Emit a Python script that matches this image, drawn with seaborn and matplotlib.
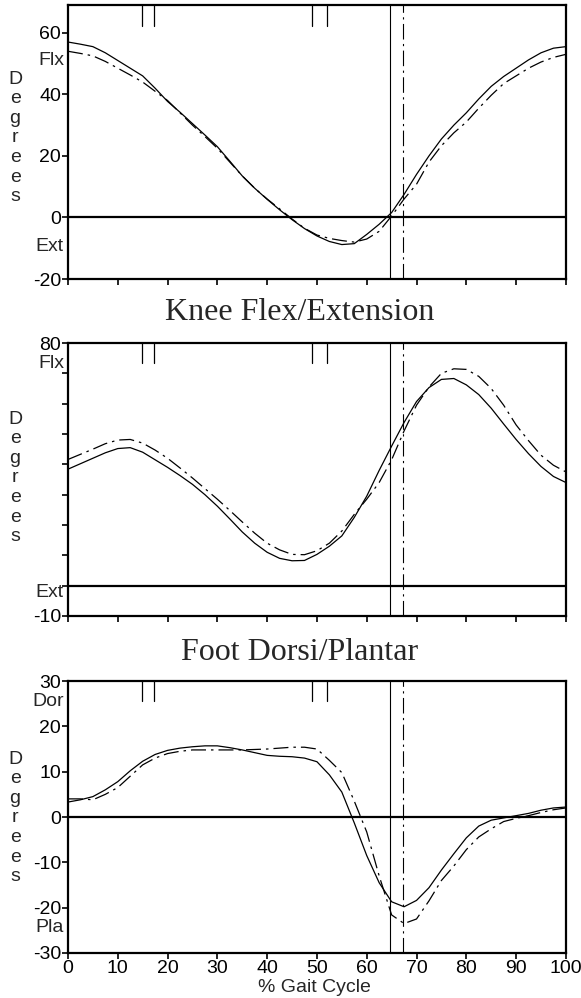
import pandas as pd
import matplotlib
matplotlib.use("Agg")
import matplotlib.pyplot as plt
import seaborn as sns

gait = [0, 2.5, 5, 7.5, 10, 12.5, 15, 17.5, 20, 22.5, 25, 27.5, 30, 32.5, 35, 37.5, 40,
        42.5, 45, 47.5, 50, 52.5, 55, 57.5, 60, 62.5, 65, 67.5, 70, 72.5, 75, 77.5, 80,
        82.5, 85, 87.5, 90, 92.5, 95, 97.5, 100]

# hip flexion / extension (top panel, no title)
hip_solid = [57, 56.3, 55.5, 53.5, 51, 48.5, 46, 42, 37.7, 34.2, 30.5, 26.8, 23, 18.3, 13.5, 9.5, 5.9,
             2.5, -0.7, -3.6, -6, -7.8, -8.8, -8.5, -5.5, -2.2, 1.6, 7.5, 14, 20, 25.5, 30, 34,
             38.5, 42.6, 45.8, 48.5, 51.2, 53.5, 55, 55.5]
hip_dash = [54, 53.3, 52.5, 50.7, 48.5, 46.3, 44, 41, 38, 34, 30, 26.3, 22.5, 18, 13.5, 9.5, 6,
            2.8, -0.5, -3.5, -5.7, -6.8, -7.5, -8, -7, -4.5, 0.5, 6, 10.8, 18, 23.3, 27.5, 31,
            35.5, 39.7, 43.5, 46, 48.5, 50.5, 52, 53]

# knee flex / extension
knee_solid = [38.4, 40.2, 42, 43.8, 45.2, 45.5, 44, 41.5, 39, 36.3, 33.4, 30, 26.2, 22, 17.7, 14, 11,
              9, 8.2, 8.3, 10.3, 13, 16.4, 22.5, 29.5, 38, 46, 53.8, 60.7, 65.3, 68, 68.3, 66.2,
              63, 58.5, 53.3, 48.2, 43.5, 39.3, 36, 34]
knee_dash = [41.6, 43.3, 45, 46.8, 48, 48.2, 47, 44.7, 42, 38.8, 35.5, 32, 28.5, 24.8, 21, 17.3, 14,
             11.8, 10.3, 10.2, 11.5, 14, 18, 23.5, 28.5, 34, 41.5, 51, 59.5, 65.5, 70, 71.5, 71.3,
             69, 65, 59.5, 53, 47.8, 43, 39.7, 37.5]

# foot dorsi / plantar
foot_solid = [3.3, 3.8, 4.5, 6, 7.8, 10.2, 12.3, 13.8, 14.7, 15.2, 15.5, 15.7, 15.7, 15.3, 14.8, 14.2, 13.6,
              13.4, 13.3, 13, 12.2, 9.3, 5.5, -1.3, -8.5, -14.5, -18.7, -19.8, -18.4, -15.6, -11.7, -8.1, -4.6,
              -2, -0.7, -0.2, 0.3, 0.8, 1.5, 2, 2.2]
foot_dash = [4, 4, 3.8, 5, 6.5, 9, 11.5, 13, 14, 14.5, 14.8, 14.8, 14.8, 14.8, 14.8, 14.9, 15,
             15.2, 15.4, 15.4, 15, 12.5, 9.8, 3.5, -3.3, -13, -21.6, -23.5, -22.5, -18.5, -14, -10.8, -7.2,
             -4.4, -2.6, -1, -0.3, 0.3, 1, 1.6, 2]

toe_off = [64.7, 67.2]            # solid side, dashed side
top_marks = [14.8, 17.2, 49.0, 52.0]

panels = [
    dict(solid=hip_solid, dash=hip_dash, ylim=(-20, 69),
         ticks=[-20, 0, 20, 40, 60], labels=["-20", "0", "20", "40", "60"],
         upper=("Flx", 51), lower=("Ext", -9.5), title=None),
    dict(solid=knee_solid, dash=knee_dash, ylim=(-10, 80),
         ticks=list(range(-10, 81, 10)),
         labels=["-10", "", "", "", "", "", "", "", "", "80"],
         upper=("Flx", 73.3), lower=("Ext", -2.3), title="Knee Flex/Extension"),
    dict(solid=foot_solid, dash=foot_dash, ylim=(-30, 30),
         ticks=list(range(-30, 31, 10)),
         labels=["-30", "-20", "-10", "0", "10", "20", "30"],
         upper=("Dor", 25.5), lower=("Pla", -24.3), title="Foot Dorsi/Plantar"),
]

sns.set_theme(style="ticks")
plt.rcParams["font.family"] = ["Liberation Sans", "DejaVu Sans"]

fig = plt.figure(figsize=(5.81, 9.98), dpi=100)
boxes = [[0.117, 0.7204, 0.857, 0.2745],
         [0.117, 0.3828, 0.857, 0.2735],
         [0.117, 0.0451, 0.857, 0.2725]]
title_y = [None, 1 - 312 / 998, 1 - 653 / 998]
deg_y = [1 - 138 / 998, 1 - 478 / 998, 1 - 818 / 998]

for i, p in enumerate(panels):
    ax = fig.add_axes(boxes[i])
    df = pd.DataFrame({
        "gait": gait * 2,
        "deg": p["solid"] + p["dash"],
        "side": ["solid"] * len(gait) + ["dash"] * len(gait),
    })
    sns.lineplot(data=df, x="gait", y="deg", style="side",
                 dashes={"solid": "", "dash": (12, 4, 2, 4)},
                 color="black", linewidth=0.9, legend=False, ax=ax)

    ax.axhline(0, color="black", linewidth=1.6)
    ax.axvline(toe_off[0], color="black", linewidth=0.8)
    ax.axvline(toe_off[1], color="black", linewidth=0.8, linestyle=(0, (14, 4, 2, 4)))
    for m in top_marks:
        ax.axvline(m, ymin=0.925, ymax=1, color="black", linewidth=0.9)

    ax.set_xlim(0, 100)
    ax.set_ylim(*p["ylim"])
    ax.set_xticks(range(0, 101, 10))
    ax.set_yticks(p["ticks"])
    ax.set_yticklabels(p["labels"])
    ax.tick_params(direction="out", length=4, width=1.2, pad=1, labelsize=14, colors="black")
    if i < 2:
        ax.set_xticklabels([])
    ax.set_xlabel("")
    ax.set_ylabel("")
    for s in ax.spines.values():
        s.set_visible(True)
        s.set_linewidth(1.6)
        s.set_color("black")

    tr = ax.get_yaxis_transform()
    ax.text(-0.008, p["upper"][1], p["upper"][0], transform=tr, ha="right", va="center", fontsize=14)
    ax.text(-0.008, p["lower"][1], p["lower"][0], transform=tr, ha="right", va="center", fontsize=14)

    fig.text(0.026, deg_y[i], "D\ne\ng\nr\ne\ne\ns", ha="center", va="center",
             fontsize=14, linespacing=1.2)
    if p["title"]:
        fig.text(300 / 581, title_y[i], p["title"], ha="center", va="center",
                 fontsize=23, family="Liberation Serif")

fig.text(314 / 581, 1 - 987 / 998, "% Gait Cycle", ha="center", va="center", fontsize=14)

fig.savefig("out.png", dpi=100)
